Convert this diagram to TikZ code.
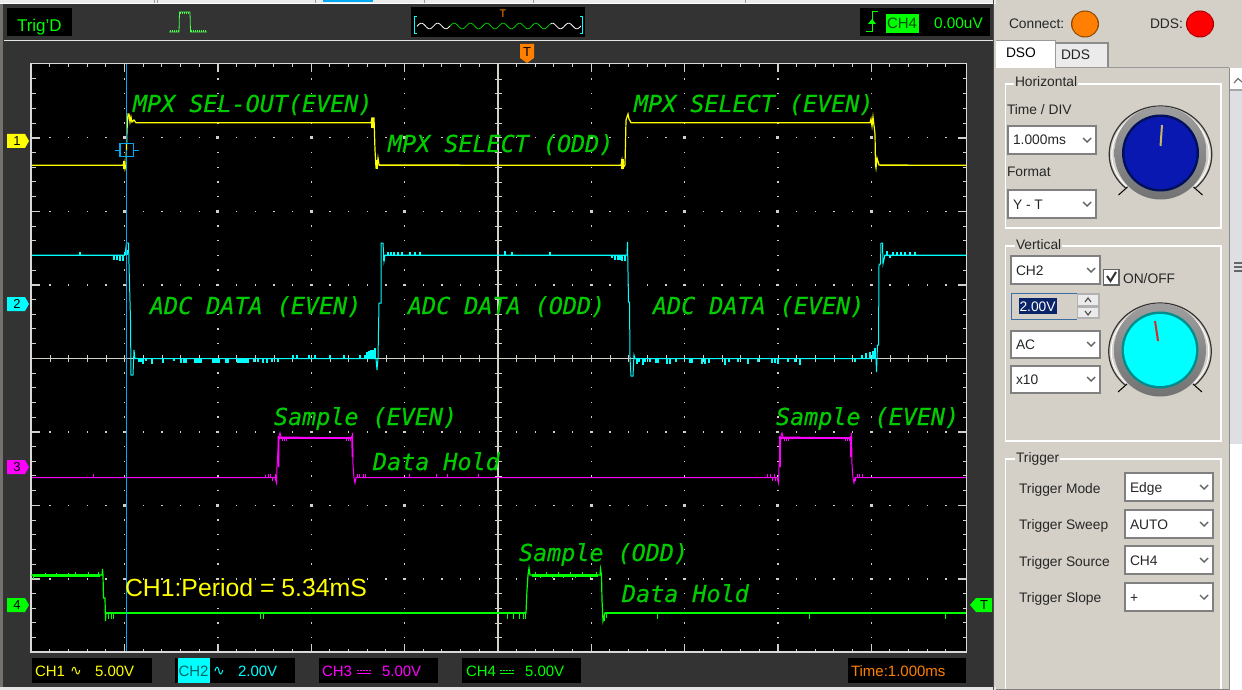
\documentclass[tikz,border=0pt]{standalone}
\usepackage{fontspec}
\setmainfont{Liberation Sans}
\newfontfamily\annfont{DejaVu Sans Mono}[FakeBold=0.35]
\newfontfamily\symfont{DejaVu Sans}
\definecolor{panelbg}{HTML}{D4D0C8}
\definecolor{darkbar}{HTML}{333333}
\definecolor{gridc}{HTML}{D0D0C8}
\definecolor{annc}{HTML}{00CC00}
\definecolor{yel}{HTML}{FFFF00}
\definecolor{cya}{HTML}{00FFFF}
\definecolor{mag}{HTML}{FF00FF}
\definecolor{grn}{HTML}{00FF00}
\definecolor{org}{HTML}{FF7F00}
\definecolor{curs}{HTML}{00A8F0}
\definecolor{navyb}{HTML}{0A246A}
\definecolor{trackc}{HTML}{DDDFE2}
\definecolor{knobblue}{HTML}{0818B0}
\definecolor{knobbluedk}{HTML}{00105A}
\definecolor{knobcyandk}{HTML}{008C8C}
\definecolor{needley}{HTML}{C8B860}
\definecolor{needler}{HTML}{D82828}
\definecolor{editline}{HTML}{3A6EA5}
\tikzset{
  txt/.style={anchor=base west,inner sep=0pt,outer sep=0pt},
  ann/.style={txt,text=annc,font=\annfont\itshape\fontsize{23.4}{24}\selectfont},
  ui/.style={txt,text=black!85,font=\fontsize{13.8}{14}\selectfont},
  stat/.style={txt,font=\fontsize{15}{15}\selectfont},
  groupbox/.style={draw=white,line width=1.2pt},
  combobox/.style={draw=black!50,line width=1.2pt,fill=white},
  tick/.style={draw=gridc,line width=1pt},
  chev/.style={draw=black!60,line width=1.4pt},
  yt/.style={yel,line width=1.2pt},
  ct/.style={cya,line width=1pt},
  mt/.style={mag,line width=1pt},
  gt/.style={grn,line width=1.2pt},
}
\newcommand{\combo}[6]{%
  \draw[combobox] (#2,#3) rectangle (#4,#5);
  \node[ui] (#1) at (#2+5,#5-9) {#6};
  \draw[chev] (#4-13,#5-16) -- (#4-9,#5-12) -- (#4-5,#5-16);
}
\newcommand{\knob}[5]{% x y fill dark name
  \draw[black!80,line width=1.2pt] (#1-35,#2+35) .. controls (#1-70,#2+5) and (#1-44,#2-47) .. (#1,#2-47) .. controls (#1+44,#2-47) and (#1+70,#2+5) .. (#1+35,#2+35);
  \draw[white,line width=1pt] (#1-34,#2+33) .. controls (#1-66,#2+4) and (#1-42,#2-44) .. (#1,#2-44) .. controls (#1+42,#2-44) and (#1+66,#2+4) .. (#1+34,#2+33);
  \shade[top color=black!38,bottom color=black!55] (#1,#2) ellipse[x radius=46pt,y radius=46.5pt];
  \fill[#4] (#1,#2) circle[radius=38.5pt];
  \fill[#3] (#1,#2) circle[radius=36pt];
  \draw[black,line width=1pt] (#1-42,#2+42) -- (#1-33,#2+34);
  \draw[black,line width=1pt] (#1+42,#2+42) -- (#1+33,#2+34);
  \coordinate (#5) at (#1,#2);
}
\newcommand{\marker}[5]{% name x-left ycenter colour text
  \fill[#4] (#2,#3-7) -- (#2+18,#3-7) -- (#2+22,#3) -- (#2+18,#3+7) -- (#2,#3+7) -- cycle;
  \node[inner sep=0pt,font=\fontsize{13}{13}\selectfont] (#1) at (#2+10,#3) {#5};
}
\begin{document}
\begin{tikzpicture}[x=1pt,y=-1pt]
\useasboundingbox (0,0) rectangle (1242,690);
% backgrounds
\fill[panelbg] (0,0) rectangle (1242,690);
\fill[black!45!panelbg] (0,0) rectangle (3,690);
\fill[black!8] (0,0) rectangle (996,4);
\fill[white] (0,3) rectangle (996,4);
\fill[curs] (323,0) rectangle (373,2);
\foreach \x in {154,157,315,424,533,745} {\fill[black!40] (\x,0) rectangle (\x+1,3);}
\fill[darkbar] (3,4) rectangle (993,687);
\fill[white!90!black] (4,40) rectangle (993,41.5);
\fill[white!90!black] (0,687) rectangle (996,690);
\fill[black!70] (993,0) rectangle (994,690);
% top bar
\fill[black] (7,8) rectangle (72,36);
\node[txt,text=grn,font=\fontsize{17}{17}\selectfont] (trigd) at (17,32) {Trig'D};
\draw[green!70!white,line width=.8pt] (169,32) -- (179,32) -- (179.5,12) -- (190,12) -- (190.5,32) -- (207,32);
\foreach \x in {170,172,174,176,178,191,193,195,197,199,201,203,205} {\draw[green!70!white,line width=.7pt] (\x,32) -- (\x,30);}
\foreach \x in {180,182,184,186,188} {\draw[green!70!white,line width=.7pt] (\x,12) -- (\x,14);}
\fill[black] (410.5,7) rectangle (585,37);
\draw[cya,line width=1pt] (417,17) -- (414.5,17) -- (414.5,33.5) -- (417,33.5);
\draw[cya,line width=1pt] (579.5,17) -- (582,17) -- (582,33.5) -- (579.5,33.5);
\draw[white,line width=.8pt] plot[domain=417:450,samples=40] (\x,{26+2.8*sin(\x*22)});
\draw[grn!80!black,line width=.8pt] plot[domain=450:551,samples=120] (\x,{26+2.8*sin(\x*22)});
\draw[white,line width=.8pt] plot[domain=551:581,samples=40] (\x,{26+2.8*sin(\x*22)});
\node[txt,text=org,font=\fontsize{11}{11}\selectfont] (toptrig) at (499.5,18) {T};
\fill[black] (860,8) rectangle (990,36);
\draw[grn,line width=1pt] (866,32) -- (872,32) -- (872,12) -- (878,12);
\fill[grn] (868,24) -- (872,19) -- (876,24) -- cycle;
\fill[grn] (886,14) rectangle (919,33);
\node[txt,text=black!70!green,font=\fontsize{15}{15}\selectfont] (trigch) at (887,29) {CH4};
\node[txt,text=grn,font=\fontsize{15.4}{15}\selectfont] (trigv) at (934,29) {0.00uV};
% T marker
\fill[org] (520,44) -- (534,44) -- (534,58) -- (527,63) -- (520,58) -- cycle;
\node[inner sep=0pt,font=\fontsize{13}{13}\selectfont] (tmark) at (527,52) {T};
% plot
\fill[black] (31,64) rectangle (966,652);
\foreach \r in {1,2,3,5,6,7} {
  \foreach \k in {1,...,49} {
    \fill[gridc] ({31.3+\k*18.667-.7},{358.3+(\r-4)*73.5-.7}) rectangle ++(1.4,1.4);
  }
}
\foreach \c in {1,2,3,4,6,7,8,9} {
  \foreach \k in {1,...,39} {
    \fill[gridc] ({31.3+\c*93.33-.7},{64.3+\k*14.7-.7}) rectangle ++(1.4,1.4);
  }
  \fill[gridc] ({31.3+\c*93.33-.7},64) rectangle ++(1.5,8);
  \fill[gridc] ({31.3+\c*93.33-.7},644) rectangle ++(1.5,8);
}
\foreach \r in {1,2,3,5,6,7} {
  \foreach \c in {1,2,3,4,6,7,8,9} {
    \fill[gridc] ({31.3+\c*93.33-1.5},{358.3+(\r-4)*73.5-1.3}) rectangle ++(3,2.6);
  }
  \fill[gridc] (32,{358.3+(\r-4)*73.5-.7}) rectangle ++(8,1.5);
  \fill[gridc] (958,{358.3+(\r-4)*73.5-.7}) rectangle ++(8,1.5);
}
% frame ticks
\foreach \k in {1,...,49} {
  \draw[tick] ({31.3+\k*18.667},64) -- ++(0,3.5);
  \draw[tick] ({31.3+\k*18.667},652) -- ++(0,-3.5);
  \draw[tick,line width=.8pt] ({31.3+\k*18.667},355) -- ({31.3+\k*18.667},362);
}
\foreach \k in {1,...,39} {
  \draw[tick] (32,{64.3+\k*14.7}) -- ++(3.5,0);
  \draw[tick] (966,{64.3+\k*14.7}) -- ++(-3.5,0);
  \draw[tick,line width=.8pt] (494.5,{64.3+\k*14.7}) -- (501.5,{64.3+\k*14.7});
}
\draw[gridc,line width=.9pt] (32,358.3) -- (966,358.3);
\draw[gridc,line width=1.5pt] (498,64) -- (498,652);
\draw[white!85!black,line width=1.6pt] (31,652) -- (31,63.5) -- (966.5,63.5) -- (966.5,652) -- cycle;
% ----- traces -----
% CH4 green
\draw[gt] (32,576) -- (32,575) -- (102,575) -- (102.5,569) -- (103,575) -- (103.5,598) -- (105,598) -- (105.5,621) -- (106,613) -- (526,613) -- (527,590) -- (528,575) -- (529,568) -- (530,575) -- (600,575) -- (600.5,569) -- (601.5,575) -- (602,600) -- (603,621) -- (605,613) -- (966,613);
\draw[grn,line width=2pt] (106,613) -- (526,613) (605,613) -- (966,613);
\foreach \x/\y in {33/579,38/577,45/573,50/577,56/573,62/577,68/573,75/572,80/577,88/572,92/577,98/572,108/619,111/619,113/619,260/619,263/619,507/619,513/619,519/619,523/619,525/619,604/621,606/618,657/619,809/619,945/619} {\draw[grn,line width=1pt] (\x,{\y<590?575:613}) -- (\x,\y);}
\draw[grn,line width=2.4pt] (33,575.5) -- (100,575.5);
\draw[grn,line width=2.4pt] (532,575.5) -- (598,575.5);
\foreach \x/\y in {535/572,540/578,546/572,552/578,558/572,563/578,570/572,575/578,582/572,590/578,596/572} {\draw[grn,line width=1pt] (\x,575) -- (\x,\y);}
% CH3 magenta
\draw[mt] (32,477.5) -- (275,477.5) -- (276.5,483) -- (277,467) -- (279,436) -- (280,433) -- (281,437) -- (352,438) -- (352.5,433) -- (353,465) -- (354,478) -- (355,483) -- (356,477.5) -- (777,477.5) -- (778.5,483) -- (779,467) -- (781,436) -- (782,433) -- (783,437) -- (851,438) -- (851.5,433) -- (852,465) -- (853,478) -- (854,483) -- (855,477.5) -- (966,477.5);
\draw[mag,line width=1.8pt] (279,438) -- (352,438) (781,438) -- (851,438);
\draw[mag,line width=1.6pt] (278.5,436) -- (278.5,467) (352,436) -- (352.5,457) (780,436) -- (780,467) (851,436) -- (851,457);
\foreach \x/\y in {265/475,268/474,270/474,272/481,275/474,357/474,359/474,363/474,365/474,767/474,770/474,772/481,775/481,774/474,855/481,857/474,859/474,862/474,93/474,409/474,436/474,447/474,478/474} {\draw[mag,line width=1pt] (\x,477.5) -- (\x,\y);}
\foreach \x in {282,284,286,346,348,350,784,786,788,845,847,849} {\draw[mag,line width=1pt] (\x,438) -- (\x,441);}
% CH2 cyan
\draw[ct] (32,255) -- (125,255) -- (126.5,243) -- (128.5,243) -- (129,264) -- (130.5,320) -- (131,375) -- (133,375) -- (134,350) -- (135,358.5) -- (376,358.5) -- (377,370) -- (378,358.5) -- (379,303) -- (381,303) -- (381,243) -- (383,243) -- (384,261) -- (385,255) -- (627,255) -- (627.5,242) -- (628.5,302) -- (629.5,302) -- (630,358) -- (631,376) -- (633,376) -- (634,355) -- (635,358.5) -- (876,358.5) -- (876.5,372) -- (877.5,345) -- (878.5,345) -- (879,264) -- (880.5,264) -- (881,243) -- (882.5,243) -- (883,264) -- (885,255) -- (966,255);
\draw[cya,line width=1.6pt] (32,255.3) -- (125,255.3) (385,255.3) -- (626,255.3) (884,255.3) -- (966,255.3) (135,358.5) -- (376,358.5) (635,358.5) -- (876,358.5);
\foreach \x/\y in {80/252,114/260,117/260,120/261,123/261,125/252,127/250,384/261,388/252,391/252,394/252,398/252,402/252,410/252,415/252,420/252,505/251,512/252,550/252,612/258,615/260,618/260,620/260,622/261,625/261,887/251,890/258,893/252,897/252,901/252,905/252,910/252,915/252} {\draw[cya,line width=1.3pt] (\x,255) -- (\x,\y);}
\foreach \x/\y in {139/362,141/362,143/364,146/361,152/364,163/363,174/361,181/363,184/363,186/363,195/363,197/363,199/363,201/363,213/363,215/363,217/363,219/363,226/363,228/363,238/363,240/363,242/363,244/363,246/363,248/363,254/362,258/362,263/363,267/363,272/362,278/362,293/355,297/355,309/355,315/355,330/355,344/355,360/355,365/355,367/352,369/351,371/350,372/350,373/350,375/348, 637/364,639/362,641/358,643/365,645/362,650/362,656/363,658/363,667/364,670/364,676/362,690/363,692/363,702/364,705/364,709/363,725/365,729/362,738/362,748/364,758/362,772/363,775/363,778/364,788/362,795/362,800/365,855/362,862/355,866/353,870/352,873/351,875/348} {\draw[cya,line width=1.3pt] (\x,358.5) -- (\x,\y);}
% CH1 yellow
\draw[yt] (32,165.3) -- (123,165.3) -- (124,162) -- (125,169) -- (126,165) -- (127,130) -- (128,114) -- (129,114) -- (130,122) -- (131,117) -- (132,122) -- (134,120) -- (136,122.7) -- (371,122.7) -- (372,118) -- (374,118) -- (375,150) -- (376,168) -- (377,168) -- (378,158) -- (379,165) -- (621,165.3) -- (622,160) -- (623,168) -- (625,165) -- (626,120) -- (628,114) -- (629,119) -- (631,122.7) -- (870,122.7) -- (871,119) -- (872,126) -- (873,117) -- (875,134) -- (875.5,165) -- (876,168) -- (877,158) -- (879,165) -- (966,165.3);
\fill[yel] (123,161) rectangle (125,169);
\fill[yel] (621,159) rectangle (624,169);
\fill[yel] (371,118) rectangle (374,128);
\fill[yel] (376,160) rectangle (378,169);
\draw[yel,line width=1.6pt] (32,165.3) -- (123,165.3) (379,165.3) -- (621,165.3) (880,165.3) -- (966,165.3) (136,122.7) -- (370,122.7) (632,122.7) -- (869,122.7);
% cursor
\draw[curs,line width=.9pt] (126.2,64) -- (126.2,651);
\draw[curs,line width=1.2pt] (120,143.5) rectangle (133.5,156.5);
\draw[curs,line width=.9pt] (114.5,150) -- (120,150) (133.5,150) -- (139,150);
\draw[yel,line width=.9pt] (126,144) -- (126,150);
% annotations
\node[ann] (a1) at (133,112) {MPX SEL-OUT(EVEN)};
\node[ann] (a2) at (388,152) {MPX SELECT (ODD)};
\node[ann] (a3) at (634,112) {MPX SELECT (EVEN)};
\node[ann] (a4) at (150,314) {ADC DATA (EVEN)};
\node[ann] (a5) at (408,314) {ADC DATA (ODD)};
\node[ann] (a6) at (653,314) {ADC DATA (EVEN)};
\node[ann] (a7) at (274,425) {Sample (EVEN)};
\node[ann] (a8) at (373,470) {Data Hold};
\node[ann] (a9) at (776,425) {Sample (EVEN)};
\node[ann] (a10) at (519,561) {Sample (ODD)};
\node[ann] (a11) at (622,602) {Data Hold};
\node[txt,text=yel,font=\fontsize{24.8}{25}\selectfont] (period) at (125,596) {CH1:Period = 5.34mS};
% channel markers
\marker{m1}{7}{141}{yel}{1}
\marker{m2}{7}{304}{cya}{2}
\marker{m3}{7}{467}{mag}{3}
\marker{m4}{7}{605}{grn}{4}
\fill[grn] (992,598) -- (976,598) -- (970,605) -- (976,612) -- (992,612) -- cycle;
\node[inner sep=0pt,font=\fontsize{13}{13}\selectfont] (mt) at (984,605) {T};
% status boxes
\fill[black] (32,658) rectangle (152,683);
\fill[black] (175,658) rectangle (295,683);
\fill[black] (319,658) rectangle (438,683);
\fill[black] (462,658) rectangle (581,683);
\fill[black] (848,658) rectangle (966,683);
\node[stat,text=yel] (s1) at (35,676) {CH1};
\node[stat,text=yel,font=\symfont\fontsize{14}{14}\selectfont] (s1w) at (70,675) {∿};
\node[stat,text=yel] (s1v) at (95,676) {5.00V};
\fill[cya] (178,658) rectangle (210,683);
\node[stat,text=black!60!cya] (s2) at (178.5,676) {CH2};
\node[stat,text=cya,font=\symfont\fontsize{14}{14}\selectfont] (s2w) at (213,675) {∿};
\node[stat,text=cya] (s2v) at (238,676) {2.00V};
\node[stat,text=mag] (s3) at (322,676) {CH3};
\draw[mag,line width=.9pt] (357,673) -- (371,673);
\draw[mag,line width=.9pt,dash pattern=on 1.5pt off 1.5pt] (357,670) -- (371,670);
\node[stat,text=mag] (s3v) at (382,676) {5.00V};
\node[stat,text=grn] (s4) at (466,676) {CH4};
\draw[grn,line width=.9pt] (500,673) -- (514,673);
\draw[grn,line width=.9pt,dash pattern=on 1.5pt off 1.5pt] (500,670) -- (514,670);
\node[stat,text=grn] (s4v) at (525,676) {5.00V};
\node[stat,text=org] (stime) at (851,676) {Time:1.000ms};
% ----- right panel -----
\node[ui] (conn) at (1009,29) {Connect:};
\fill[black!45!org] (1085,24) ellipse[x radius=14pt,y radius=13.5pt];
\fill[org] (1085,24) ellipse[x radius=12.8pt,y radius=12.5pt];
\node[ui] (ddsl) at (1150,29) {DDS:};
\fill[black!40!red] (1200,24) ellipse[x radius=14pt,y radius=13.5pt];
\fill[red] (1200,24) ellipse[x radius=13pt,y radius=12.7pt];
\draw[black!40,line width=1pt] (996,67.5) -- (1229,67.5);
\fill[black!8] (1055,43) rectangle (1108,67);
\draw[black!45,line width=1.2pt] (1055,67) -- (1055,43) -- (1108,43) -- (1108,67);
\fill[white] (996,41) rectangle (1055,68);
\draw[black!40,line width=1pt] (996,41) -- (1055,41) -- (1055,67);
\node[ui,text=black] (tab1) at (1006,58) {DSO};
\node[ui] (tab2) at (1061,60) {DDS};
% scrollbar
\fill[white] (1229,68) rectangle (1242,90);
\draw[black!55,line width=1.2pt] (1234,83) -- (1238,78.5) -- (1242,82);
\fill[black!35] (1229,89.5) rectangle (1242,91);
\fill[trackc] (1229,91) rectangle (1242,444);
\fill[white] (1229,444) rectangle (1242,690);
\draw[black!45,line width=1pt] (1229,68) -- (1229,690);
\foreach \y in {263,267,271} {\draw[black!60,line width=1.4pt] (1234,\y) -- (1242,\y);}
% Horizontal
\draw[groupbox] (1005.5,84) rectangle (1221,228);
\node[ui,fill=panelbg,inner xsep=1pt,outer sep=0pt] (gh) at (1014,87) {Horizontal};
\node[ui] (ltime) at (1007,115) {Time / DIV};
\combo{c1}{1008}{126}{1096}{154}{1.000ms}
\node[ui] (lfmt) at (1007,176) {Format};
\combo{c2}{1008}{190}{1096}{218}{Y - T}
\knob{1160.5}{153}{knobblue}{knobbluedk}{kn1}
\draw[needley,line width=2pt] (kn1) ++(0,-7) -- (1162,125);
% Vertical
\draw[groupbox] (1005.5,246) rectangle (1221,441);
\node[ui,fill=panelbg,inner xsep=1pt,outer sep=0pt] (gv) at (1015,249) {Vertical};
\combo{c3}{1011}{256}{1100}{284}{CH2}
\draw[black!60,fill=white,line width=1.2pt] (1103.5,269.5) rectangle (1119,285);
\draw[black!80,line width=2pt] (1107,276) -- (1110.5,281) -- (1116,272);
\node[ui] (onoff) at (1123,283) {ON/OFF};
\fill[panelbg] (1011,293) rectangle (1077,319);
\draw[editline,line width=1pt] (1077,293) -- (1011,293) -- (1011,319) -- (1077,319);
\fill[navyb] (1019,298) rectangle (1057,314);
\node[ui,text=white] (volt) at (1019.5,311) {2.00V};
\fill[black!30] (1077,293) rectangle (1100,319);
\fill[black!8] (1078,295) rectangle (1098,305);
\fill[black!8] (1078,308) rectangle (1098,317);
\draw[black!70,line width=1.1pt] (1085,302) -- (1088,298) -- (1091,302);
\draw[black!70,line width=1.1pt] (1085,311) -- (1088,315) -- (1091,311);
\combo{c4}{1011}{331}{1100}{358}{AC}
\combo{c5}{1011}{366}{1100}{393}{x10}
\knob{1160}{350}{cya}{knobcyandk}{kn2}
\draw[needler,line width=2pt] (1158,341) -- (1155,321);
% Trigger
\draw[groupbox] (1005.5,690) -- (1005.5,459) -- (1221,459) -- (1221,690);
\node[ui,fill=panelbg,inner xsep=1pt,outer sep=0pt] (gt1) at (1015,462) {Trigger};
\node[ui] (l1) at (1019,493) {Trigger Mode};
\node[ui] (l2) at (1019,529) {Trigger Sweep};
\node[ui] (l3) at (1019,566) {Trigger Source};
\node[ui] (l4) at (1019,602) {Trigger Slope};
\combo{c6}{1125}{473}{1213}{501}{Edge}
\combo{c7}{1125}{510}{1213}{538}{AUTO}
\combo{c8}{1125}{546}{1213}{574}{CH4}
\combo{c9}{1125}{583}{1213}{611}{+}
\fill[black!50] (996,688.5) rectangle (1229,690);
\end{tikzpicture}
\end{document}
